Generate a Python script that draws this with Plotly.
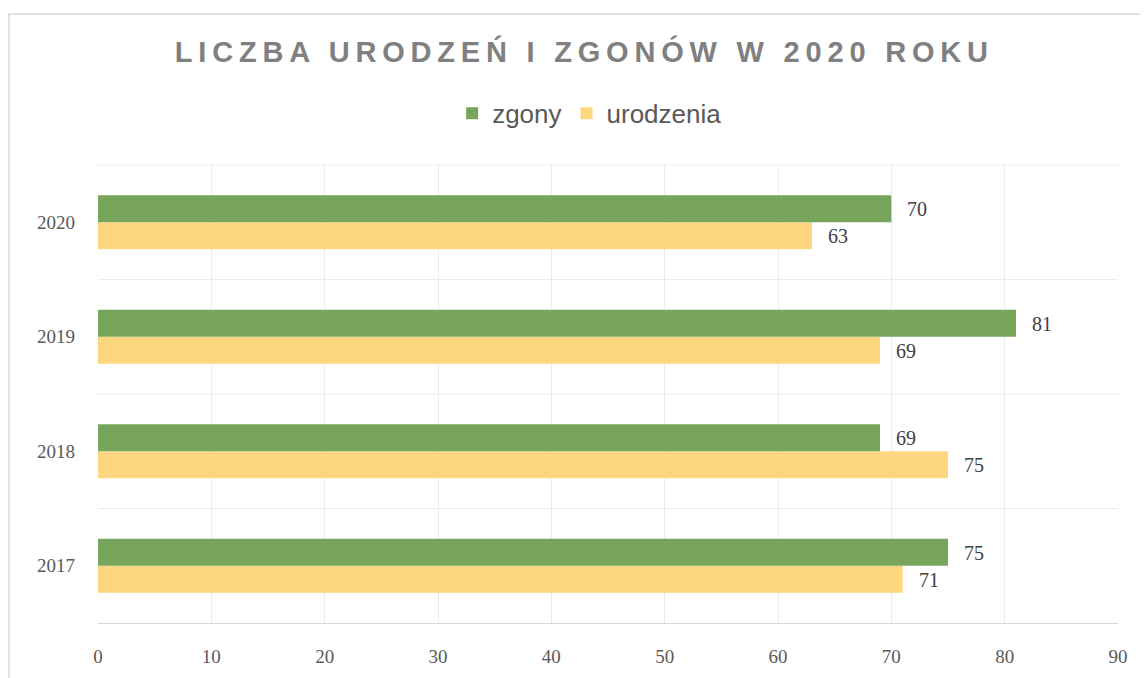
import plotly.graph_objects as go

years = ["2017", "2018", "2019", "2020"]
zgony = [75, 69, 81, 70]
urodzenia = [71, 75, 69, 63]
x_ticks = [0, 10, 20, 30, 40, 50, 60, 70, 80, 90]

serif = "Liberation Serif, DejaVu Serif, serif"
sans = "Liberation Sans, Arial, sans-serif"
label_font = dict(family=serif, size=20, color="#404040")

fig = go.Figure()
fig.add_trace(go.Bar(
    y=years, x=urodzenia, name="urodzenia", orientation="h",
    marker=dict(color="#FED680", line=dict(width=0)),
))
fig.add_trace(go.Bar(
    y=years, x=zgony, name="zgony", orientation="h",
    marker=dict(color="#77A55C", line=dict(width=0)),
))

annotations = []
for i, v in enumerate(zgony):
    annotations.append(dict(x=v, y=i, xref="x", yref="y", text=str(v), showarrow=False,
                            xanchor="left", yanchor="middle", xshift=14, yshift=13,
                            font=label_font))
for i, v in enumerate(urodzenia):
    annotations.append(dict(x=v, y=i, xref="x", yref="y", text=str(v), showarrow=False,
                            xanchor="left", yanchor="middle", xshift=14, yshift=-14,
                            font=label_font))

fig.update_layout(
    width=1148, height=678,
    paper_bgcolor="white", plot_bgcolor="white",
    margin=dict(l=90, r=38, t=157, b=63, autoexpand=False),
    barmode="group", bargap=0.53, bargroupgap=0,
    annotations=annotations,
    title=dict(
        text='<span style="letter-spacing:5.8px"><b>LICZBA URODZEŃ I ZGONÓW W 2020 ROKU</b></span>',
        font=dict(family=sans, size=29, color="#808080"),
        x=0.502, xanchor="center", y=0.935, yanchor="middle",
    ),
    legend=dict(
        orientation="h", x=0.482, xanchor="center", y=1.113, yanchor="middle",
        traceorder="reversed",
        font=dict(family=sans, size=26, color="#595959"),
        itemwidth=30,
    ),
    xaxis=dict(
        range=[0, 90], tickvals=x_ticks, ticktext=[str(v) for v in x_ticks],
        showgrid=True, gridcolor="#EBEBEB", gridwidth=1,
        showline=True, linecolor="#D9D9D9", linewidth=1,
        zeroline=False, ticks="", ticklabelstandoff=16,
        tickfont=dict(family=serif, size=19, color="#595959"),
    ),
    yaxis=dict(
        type="category", categoryorder="array", categoryarray=years,
        range=[-0.5, 3.5],
        showgrid=False, showline=False, zeroline=False, ticks="",
        ticklabelstandoff=22,
        tickfont=dict(family=serif, size=19, color="#595959"),
    ),
    shapes=[
        dict(type="rect", xref="paper", yref="paper",
             x0=-0.0873, x1=1.08, y0=-0.3, y1=1.3297,
             line=dict(color="#D9D9D9", width=1.5), fillcolor="rgba(0,0,0,0)", layer="below"),
    ] + [
        dict(type="line", xref="paper", yref="paper", x0=0, x1=1,
             y0=k / 4, y1=k / 4, line=dict(color="#EBEBEB", width=1), layer="below")
        for k in range(1, 5)
    ],
)

fig.write_html("out.html")
